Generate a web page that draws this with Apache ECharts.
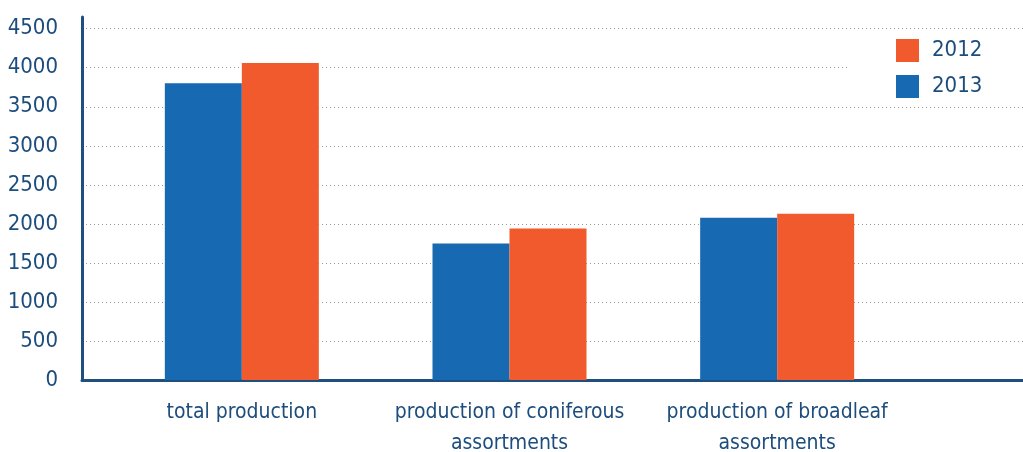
<!DOCTYPE html>
<html>
<head>
<meta charset="utf-8">
<script src="https://cdn.jsdelivr.net/npm/echarts@6/dist/echarts.min.js"></script>
<style>html,body{margin:0;padding:0;background:#fff}#c{width:1023px;height:452px}</style>
</head>
<body>
<div id="c"></div>
<script>
const categories = ['total production', 'production of coniferous\nassortments', 'production of broadleaf\nassortments'];
const values2013 = [3800, 1750, 2080];
const values2012 = [4060, 1940, 2130];
const seriesNames = ['2013', '2012'];
const legendOrder = ['2012', '2013'];

const FONT = "'Liberation Sans Narrow', 'DejaVu Sans Condensed', sans-serif";
const TXT = '#1d4d7d';
const AXIS = '#1f4f7e';
const YMAX = 4650;

const chart = echarts.init(document.getElementById('c'), null, {renderer: 'canvas'});
chart.setOption({
  animation: false,
  backgroundColor: '#fff',
  grid: [
    {left: 82, right: 0, top: 17, bottom: 72, outerBoundsMode: 'none', containLabel: false},
    {left: 108, right: 112, top: 17, bottom: 72, outerBoundsMode: 'none', containLabel: false}
  ],
  legend: {
    data: legendOrder,
    orient: 'vertical',
    left: 848, top: 31,
    padding: [8, 60, 4, 48],
    backgroundColor: '#fff',
    itemWidth: 23, itemHeight: 23, itemGap: 13,
    icon: 'rect',
    textStyle: {fontFamily: FONT, fontSize: 22, color: TXT, padding: [0, 0, 0, 8]}
  },
  xAxis: [
    {type: 'category', gridIndex: 0, data: categories,
     axisLine: {show: true, lineStyle: {color: AXIS, width: 3}},
     axisTick: {show: false}, axisLabel: {show: false}, splitLine: {show: false}},
    {type: 'category', gridIndex: 1, data: categories,
     axisLine: {show: false}, axisTick: {show: false},
     axisLabel: {fontFamily: FONT, fontSize: 21, color: TXT, lineHeight: 31, margin: 17, interval: 0}}
  ],
  yAxis: [
    {type: 'value', gridIndex: 0, min: 0, max: YMAX, interval: 500,
     axisLine: {show: true, lineStyle: {color: AXIS, width: 3}},
     axisTick: {show: false},
     axisLabel: {fontFamily: FONT, fontSize: 22, color: TXT, margin: 24, showMaxLabel: false,
                 formatter: v => String(v)},
     splitLine: {show: true, showMinLine: false, showMaxLine: false, lineStyle: {color: '#999', type: [1, 3], width: 1}}},
    {type: 'value', gridIndex: 1, min: 0, max: YMAX, interval: 500, show: false}
  ],
  series: [
    {name: seriesNames[0], type: 'bar', xAxisIndex: 1, yAxisIndex: 1, data: values2013,
     barWidth: 77, barGap: '0%', itemStyle: {color: '#1769b2'}, z: 3},
    {name: seriesNames[1], type: 'bar', xAxisIndex: 1, yAxisIndex: 1, data: values2012,
     barWidth: 77, barGap: '0%', itemStyle: {color: '#f15a2c'}, z: 3}
  ]
});
</script>
</body>
</html>
